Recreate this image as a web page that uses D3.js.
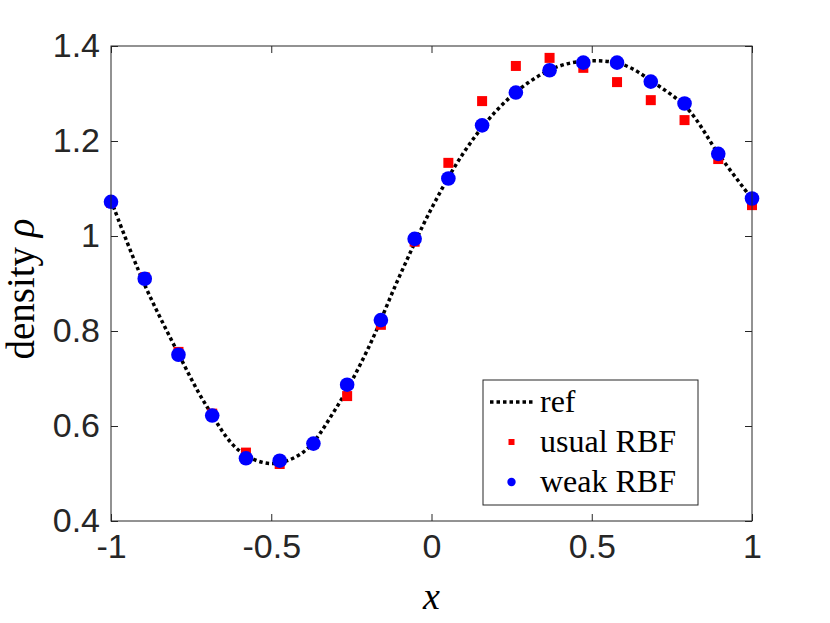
<!DOCTYPE html>
<html>
<head>
<meta charset="utf-8">
<script src="https://cdn.jsdelivr.net/npm/d3@7"></script>
<style>
  body { margin: 0; background: #fff; }
  svg { display: block; }
</style>
</head>
<body>
<div id="chart"></div>
<script>
// sample nodes (20 equispaced points on [-1, 1])
const nodeX = [-1, -0.8947, -0.7895, -0.6842, -0.5789, -0.4737, -0.3684, -0.2632, -0.1579, -0.0526,
               0.0526, 0.1579, 0.2632, 0.3684, 0.4737, 0.5789, 0.6842, 0.7895, 0.8947, 1];
const usualRBF = [1.070, 0.913, 0.756, 0.626, 0.544, 0.520, 0.562, 0.663, 0.813, 0.988,
                  1.154, 1.284, 1.358, 1.375, 1.354, 1.324, 1.286, 1.244, 1.162, 1.065];
const weakRBF  = [1.072, 0.910, 0.750, 0.622, 0.532, 0.527, 0.563, 0.687, 0.823, 0.994,
                  1.121, 1.233, 1.302, 1.349, 1.365, 1.365, 1.325, 1.279, 1.173, 1.079];

// reference solution
const refX = [-1, -0.9, -0.8, -0.7, -0.6, -0.5, -0.4, -0.3, -0.2, -0.1, 0,
              0.1, 0.2, 0.3, 0.4, 0.5, 0.6, 0.7, 0.8, 0.9, 1];
const refY = [1.075, 0.905, 0.766, 0.640, 0.548, 0.521, 0.545, 0.635, 0.760, 0.915, 1.058,
              1.175, 1.262, 1.322, 1.358, 1.369, 1.360, 1.320, 1.267, 1.168, 1.078];

const xTicks = [-1, -0.5, 0, 0.5, 1];
const yTicks = [0.4, 0.6, 0.8, 1, 1.2, 1.4];

const width = 830, height = 623;
const margin = { left: 111, top: 46, right: 78, bottom: 102 };
const axisColor = "#262626";

const svg = d3.select("#chart").append("svg")
    .attr("width", width)
    .attr("height", height);

const x = d3.scaleLinear().domain([-1, 1]).range([margin.left, width - margin.right]);
const y = d3.scaleLinear().domain([0.4, 1.4]).range([height - margin.bottom, margin.top]);

const g = svg.append("g");

// reference curve
const refData = refX.map((d, i) => [d, refY[i]]);
g.append("path")
    .datum(refData)
    .attr("d", d3.line().x(d => x(d[0])).y(d => y(d[1])).curve(d3.curveCatmullRom.alpha(0.5)))
    .attr("fill", "none")
    .attr("stroke", "#000")
    .attr("stroke-width", 3.5)
    .attr("stroke-dasharray", "3.5,3");

// usual RBF squares
const sq = 10;
g.selectAll("rect.usual")
    .data(nodeX.map((d, i) => [d, usualRBF[i]]))
    .enter().append("rect")
    .attr("class", "usual")
    .attr("x", d => x(d[0]) - sq / 2)
    .attr("y", d => y(d[1]) - sq / 2)
    .attr("width", sq)
    .attr("height", sq)
    .attr("fill", "#ff0000");

// weak RBF dots
g.selectAll("circle.weak")
    .data(nodeX.map((d, i) => [d, weakRBF[i]]))
    .enter().append("circle")
    .attr("class", "weak")
    .attr("cx", d => x(d[0]))
    .attr("cy", d => y(d[1]))
    .attr("r", 7.3)
    .attr("fill", "#0000ff");

// axes box
const axes = svg.append("g");
axes.append("rect")
    .attr("x", x(-1)).attr("y", y(1.4))
    .attr("width", x(1) - x(-1)).attr("height", y(0.4) - y(1.4))
    .attr("fill", "none").attr("stroke", axisColor).attr("stroke-width", 1);

const tickLen = 7;
const tickFont = "Liberation Sans, Arial, sans-serif";
const fmt = d => d3.format("~g")(d).replace("\u2212", "-");

const xAxisB = d3.axisBottom(x).tickValues(xTicks).tickSizeInner(-tickLen).tickSizeOuter(0)
    .tickPadding(13).tickFormat(fmt);
const xAxisT = d3.axisTop(x).tickValues(xTicks).tickSizeInner(-tickLen).tickSizeOuter(0).tickFormat("");
const yAxisL = d3.axisLeft(y).tickValues(yTicks).tickSizeInner(-tickLen).tickSizeOuter(0)
    .tickPadding(11).tickFormat(fmt);
const yAxisR = d3.axisRight(y).tickValues(yTicks).tickSizeInner(-tickLen).tickSizeOuter(0).tickFormat("");

[[xAxisB, `translate(0,${y(0.4)})`], [xAxisT, `translate(0,${y(1.4)})`],
 [yAxisL, `translate(${x(-1)},0)`], [yAxisR, `translate(${x(1)},0)`]].forEach(([ax, tr]) => {
    const a = axes.append("g").attr("transform", tr).call(ax);
    a.select(".domain").remove();
    a.selectAll(".tick line").attr("stroke", axisColor);
    a.selectAll(".tick text")
        .attr("fill", axisColor)
        .style("font-family", tickFont)
        .style("font-size", "34px");
});

// axis labels
svg.append("text")
    .attr("x", x(0)).attr("y", 609)
    .attr("text-anchor", "middle")
    .style("font-family", "Liberation Serif, serif")
    .style("font-style", "italic")
    .style("font-size", "38px")
    .text("x");

svg.append("text")
    .attr("transform", "translate(34,289) rotate(-90)")
    .attr("text-anchor", "middle")
    .style("font-family", "Liberation Serif, serif")
    .style("font-size", "39px")
    .html('density <tspan font-style="italic">ρ</tspan>');

// legend
const leg = svg.append("g").attr("transform", "translate(483,380)");
leg.append("rect")
    .attr("width", 215).attr("height", 125)
    .attr("fill", "#fff").attr("stroke", axisColor).attr("stroke-width", 1);

const legItems = ["ref", "usual RBF", "weak RBF"];
const rowY = [22, 62, 102];
leg.selectAll("text.leg")
    .data(legItems)
    .enter().append("text")
    .attr("class", "leg")
    .attr("x", 57)
    .attr("y", (d, i) => rowY[i] + 10)
    .style("font-family", "Liberation Serif, serif")
    .style("font-size", "32px")
    .attr("fill", "#000")
    .text(d => d);

leg.append("line")
    .attr("x1", 7).attr("x2", 50)
    .attr("y1", rowY[0]).attr("y2", rowY[0])
    .attr("stroke", "#000").attr("stroke-width", 3.5).attr("stroke-dasharray", "3.5,3");
leg.append("rect")
    .attr("x", 28.5 - 3).attr("y", rowY[1] - 3)
    .attr("width", 6).attr("height", 6).attr("fill", "#ff0000");
leg.append("circle")
    .attr("cx", 28.5).attr("cy", rowY[2]).attr("r", 4.2).attr("fill", "#0000ff");
</script>
</body>
</html>
